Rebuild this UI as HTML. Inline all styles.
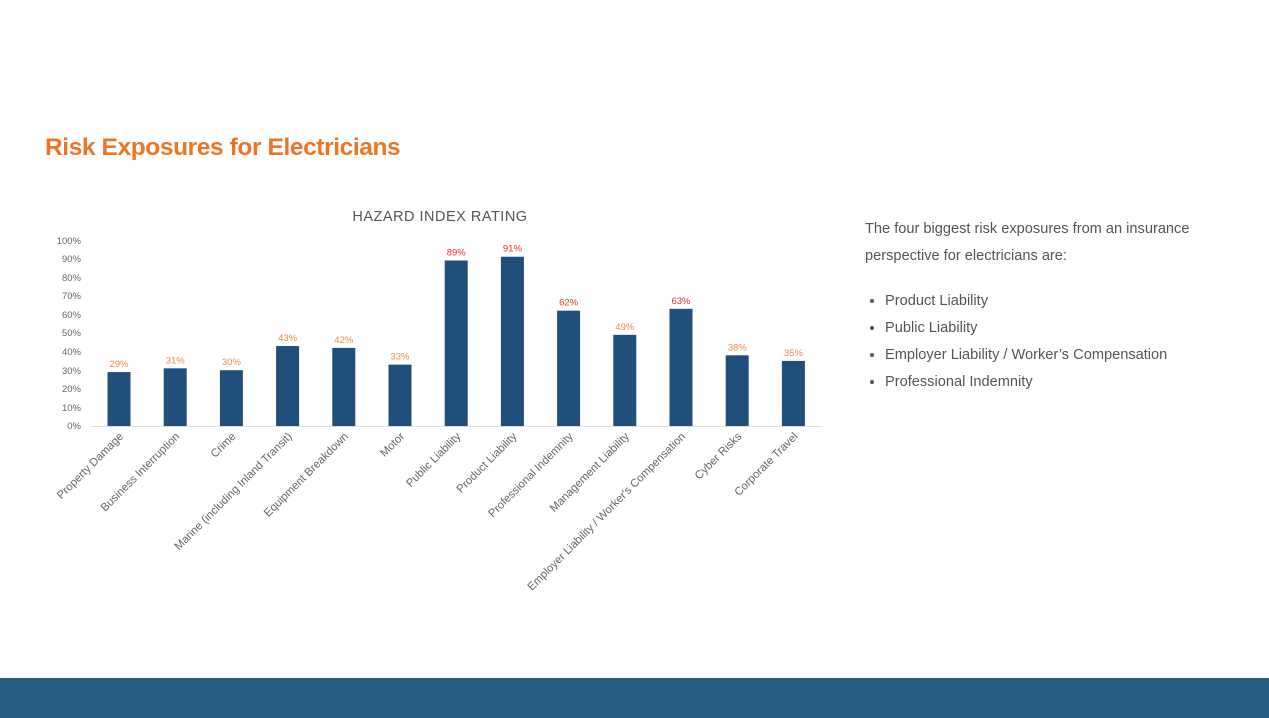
<!DOCTYPE html>
<html><head><meta charset="utf-8"><style>
body{margin:0;width:1269px;height:718px;background:#fff;position:relative;overflow:hidden;font-family:"Liberation Sans",sans-serif}
h1{position:absolute;left:45px;top:134px;margin:0;font-size:24.5px;font-weight:bold;color:#ee7526;letter-spacing:-0.4px}
.txt{position:absolute;left:865px;top:216px;width:360px;font-size:14.6px;color:#555;line-height:27px}
ul{margin:18px 0 0 0;padding-left:20px}
li{line-height:27px}
.foot{position:absolute;left:0;top:678px;width:1269px;height:40px;background:#255c80}
svg{position:absolute;left:0;top:0}
</style></head><body>
<h1>Risk Exposures for Electricians</h1>
<svg width="840" height="620" font-family="Liberation Sans, sans-serif">
<text x="440" y="221" text-anchor="middle" font-size="14.5" fill="#555" letter-spacing="0.5">HAZARD INDEX RATING</text>
<g font-size="9.5" fill="#666" text-anchor="end">
<text x="81" y="429">0%</text><text x="81" y="411">10%</text><text x="81" y="392">20%</text><text x="81" y="374">30%</text><text x="81" y="355">40%</text><text x="81" y="336">50%</text><text x="81" y="318">60%</text><text x="81" y="299">70%</text><text x="81" y="281">80%</text><text x="81" y="262">90%</text><text x="81" y="244">100%</text>
</g>
<line x1="91" y1="426.5" x2="822" y2="426.5" stroke="#ddd" stroke-width="1"/>
<g fill="#204f7c" id="bars"></g>
<g id="vals" font-size="9.5" text-anchor="middle"></g>
<g id="labs" font-size="11.3" fill="#666" text-anchor="end"></g>
</svg>
<script>
var d=[["Property Damage",29],["Business Interruption",31],["Crime",30],["Marine (including Inland Transit)",43],["Equipment Breakdown",42],["Motor",33],["Public Liability",89],["Product Liability",91],["Professional Indemnity",62],["Management Liability",49],["Employer Liability / Worker's Compensation",63],["Cyber Risks",38],["Corporate Travel",35]];
var ns="http://www.w3.org/2000/svg",b=document.getElementById('bars'),v=document.getElementById('vals'),l=document.getElementById('labs');
d.forEach(function(e,i){var cx=119+i*56.2,h=e[1]*1.86,y=426-h;
var r=document.createElementNS(ns,'rect');r.setAttribute('x',cx-11.5);r.setAttribute('y',y);r.setAttribute('width',23);r.setAttribute('height',h);b.appendChild(r);
var t=document.createElementNS(ns,'text');t.setAttribute('x',cx);t.setAttribute('y',y-5);t.setAttribute('fill',[6,7,8,10].indexOf(i)>=0?'#e8302a':'#ee8a4a');t.textContent=e[1]+'%';v.appendChild(t);
var s=document.createElementNS(ns,'text');s.setAttribute('transform','translate('+(cx+5)+',437) rotate(-45)');s.textContent=e[0];l.appendChild(s);});
</script>
<div class="txt">The four biggest risk exposures from an insurance perspective for electricians are:
<ul><li>Product Liability</li><li>Public Liability</li><li>Employer Liability / Worker’s Compensation</li><li>Professional Indemnity</li></ul></div>
<div class="foot"></div>
</body></html>
